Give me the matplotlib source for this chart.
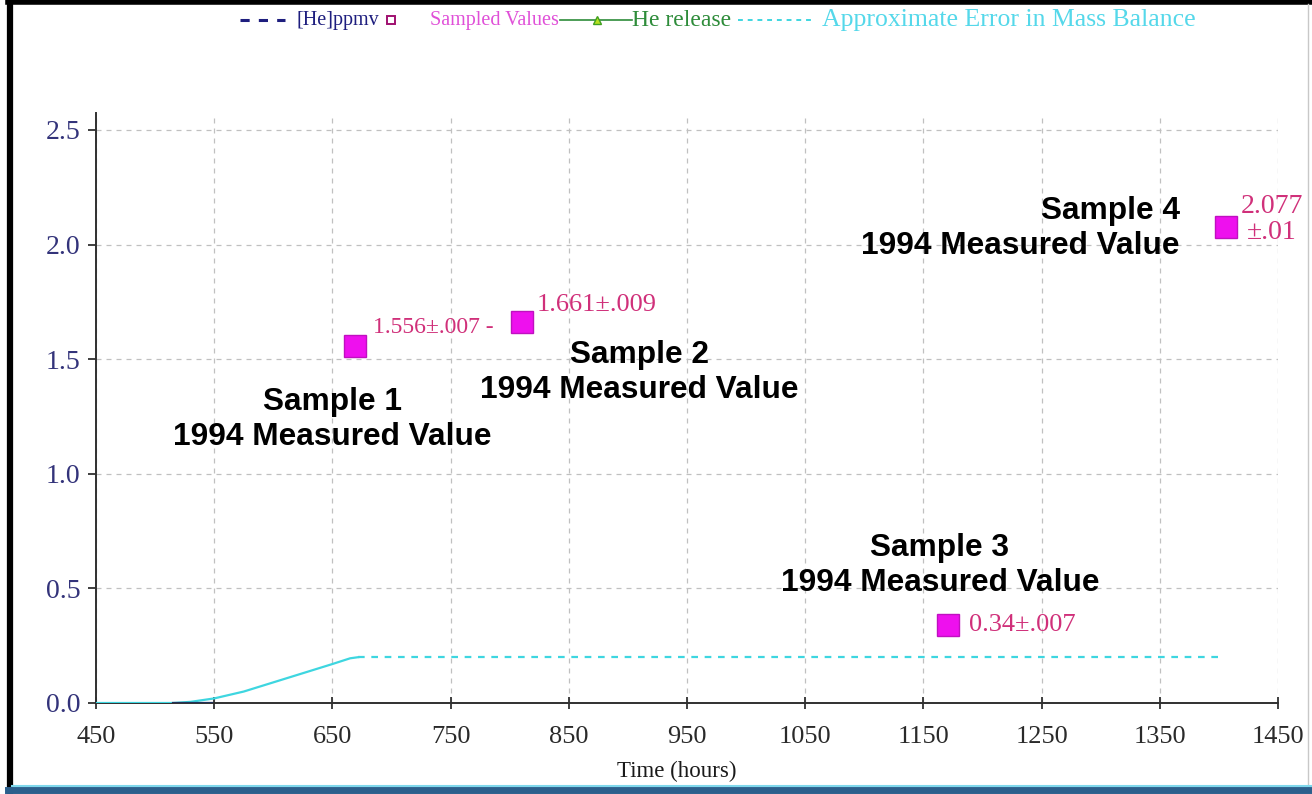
import matplotlib
matplotlib.use("Agg")
import matplotlib.pyplot as plt
from matplotlib.lines import Line2D

# ---- data ----
err_t = [450, 515, 530, 550, 575, 600, 625, 650, 665, 672]
err_v = [0.0, 0.0, 0.005, 0.02, 0.05, 0.09, 0.13, 0.17, 0.195, 0.2]
err_flat_t = [672, 1400]
err_flat_v = [0.2, 0.2]
he_t = [515, 548]
he_v = [0.0, 0.0]

sample_t = [669, 810, 1171, 1406]
sample_v = [1.556, 1.661, 0.34, 2.077]
sample_names = ["Sample 1", "Sample 2", "Sample 3", "Sample 4"]

xticks = [450, 550, 650, 750, 850, 950, 1050, 1150, 1250, 1350, 1450]
yticks = [0.0, 0.5, 1.0, 1.5, 2.0, 2.5]

SERIF = "Liberation Serif"
SANS = "Liberation Sans"
NAVY = "#1e1e7e"
MAG = "#ee10ee"
LBL = "#d0307a"
CYAN = "#3ed6e0"
GREEN = "#2e8c3a"

fig = plt.figure(figsize=(13.12, 7.94), dpi=100)
ax = fig.add_axes([96/1312, 1-703/794, (1278-96)/1312, (703-113)/794])
ax.set_xlim(450, 1450)
ax.set_ylim(0, 2.574)

ax.grid(True, color="#c0c0c0", linestyle=(0, (4, 4)), linewidth=0.9)
ax.set_axisbelow(True)

ax.plot(err_t, err_v, color=CYAN, lw=1.6, zorder=3)
ax.plot(err_flat_t, err_flat_v, color=CYAN, lw=1.6, linestyle=(0, (3, 3)), zorder=3)
ax.plot(he_t, he_v, color="#20305a", lw=1.6, zorder=3)

ax.plot(sample_t, sample_v, linestyle="none", marker="s", markersize=16.5,
        markerfacecolor=MAG, markeredgecolor="#c010c0", zorder=4, clip_on=False)

# value labels
ax.text(684, 1.64, "1.556\u00b1.007 -", color=LBL, fontsize=17, family=SERIF,
        ha="left", va="center")
ax.text(823, 1.737, "1.661\u00b1.009", color=LBL, fontsize=19, family=SERIF,
        ha="left", va="center")
ax.text(1189, 0.34, "0.34\u00b1.007", color=LBL, fontsize=19, family=SERIF,
        ha="left", va="center")
ax.text(1445, 2.11, "2.077\n\u00b1.01", color=LBL, fontsize=20, family=SERIF,
        ha="center", va="center", linespacing=1.05, clip_on=False)

# sample labels
lab_pos = [(650, 1.235, "center"), (910, 1.44, "center"), (1164, 0.60, "center"),
           (1367, 2.07, "right")]
for (x, y, ha), name in zip(lab_pos, sample_names):
    ax.text(x, y, name + "\n1994 Measured Value", fontsize=22.8, family=SANS,
            fontweight="bold", ha=ha, va="center", multialignment=ha,
            linespacing=1.22, color="black")

for s in ["top", "right"]:
    ax.spines[s].set_visible(False)
for s in ["left", "bottom"]:
    ax.spines[s].set_color("#303030")
    ax.spines[s].set_linewidth(1.4)

ax.set_xticks(xticks)
ax.set_xticklabels([str(t) for t in xticks])
ax.set_yticks(yticks)
ax.set_yticklabels([f"{t:.1f}" for t in yticks])
ax.tick_params(axis="x", direction="inout", length=9, width=1.3, colors="#303030",
               labelsize=19, pad=12)
ax.tick_params(axis="y", direction="out", length=6, width=1.3, colors="#303030",
               labelsize=20, pad=5)
for lab in ax.get_xticklabels():
    lab.set_family(SERIF)
    lab.set_color("#2a2a2a")
for lab in ax.get_yticklabels():
    lab.set_family(SERIF)
    lab.set_color("#33337a")
ax.set_xlabel("Time (hours)", family=SERIF, fontsize=16.5, color="#1a1a1a")
ax.xaxis.set_label_coords((677-96)/(1278-96), -(771-703)/(703-113))
ax.xaxis.label.set_va("center")

# ---- legend (manual, figure coordinates) ----
def fx(px):
    return px / 1312
def fy(py):
    return 1 - py / 794

ly = fy(20)
fig.add_artist(Line2D([fx(240), fx(285)], [ly, ly], color=NAVY, lw=2.2,
                      linestyle=(0, (3, 3))))
fig.text(fx(296), ly, "[He]ppmv", color=NAVY, fontsize=14.5, family=SERIF, va="center")
fig.add_artist(Line2D([fx(391)], [ly], marker="s", markersize=6, markerfacecolor="white",
                      markeredgecolor="#a01070", markeredgewidth=1.4, linestyle="none"))
fig.text(fx(430), ly, "Sampled Values", color="#e050d8", fontsize=14.5, family=SERIF, va="center")
fig.add_artist(Line2D([fx(560), fx(632)], [ly, ly], color=GREEN, lw=1.2))
fig.add_artist(Line2D([fx(597)], [ly], marker="^", markersize=6, markerfacecolor="#b8e020",
                      markeredgecolor="#40a020", linestyle="none"))
fig.text(fx(632), ly, "He release", color=GREEN, fontsize=17, family=SERIF, va="center")
fig.add_artist(Line2D([fx(738), fx(815)], [ly, ly], color=CYAN, lw=1.4,
                      linestyle=(0, (2.5, 2.5))))
fig.text(fx(822), ly, "Approximate Error in Mass Balance", color="#55d8ea", fontsize=18.5,
         family=SERIF, va="center")

# ---- frame borders ----
fig.add_artist(Line2D([fx(10), fx(10)], [0, 1], color="black", lw=4.5))
fig.add_artist(Line2D([fx(8), 1], [fy(2), fy(2)], color="black", lw=4))
fig.add_artist(Line2D([fx(1308), fx(1308)], [fy(790), fy(4)], color="#c8c8c8", lw=1))
fig.add_artist(Line2D([fx(8), 1], [fy(790), fy(790)], color="#2c5f8c", lw=5))
fig.add_artist(Line2D([fx(12), 1], [fy(786), fy(786)], color="#7fd8ec", lw=1.5))

fig.savefig("out.png", dpi=100)
